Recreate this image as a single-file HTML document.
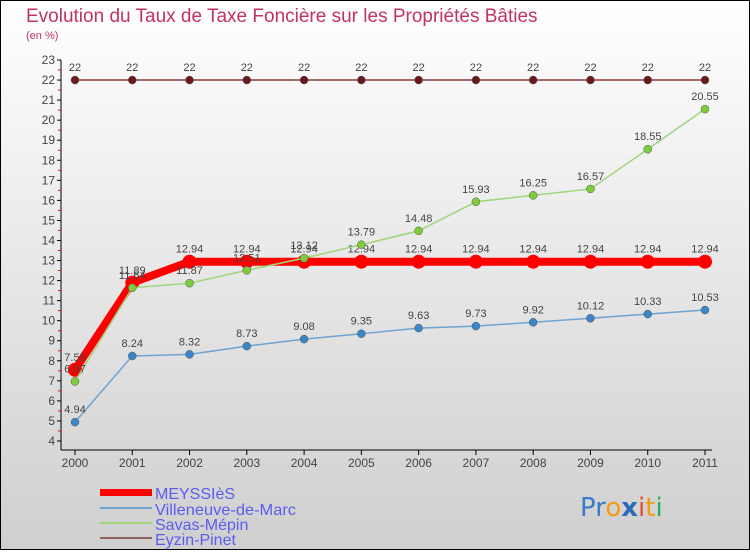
<!DOCTYPE html>
<html><head><meta charset="utf-8"><style>
html,body{margin:0;padding:0}
body{width:750px;height:550px;overflow:hidden;font-family:"Liberation Sans",sans-serif}
</style></head><body>
<svg width="750" height="550" viewBox="0 0 750 550" id="svg">
<defs><linearGradient id="bg" x1="0" y1="0" x2="0" y2="1"><stop offset="0" stop-color="#ffffff"/><stop offset="1" stop-color="#cfcfcf"/></linearGradient></defs>
<rect x="0.5" y="0.5" width="749" height="549" fill="url(#bg)" stroke="#000"/>
<text x="26" y="22" font-size="19" fill="#c2335e">Evolution du Taux de Taxe Foncière sur les Propriétés Bâties</text>
<text x="26" y="39" font-size="11" fill="#c2335e">(en %)</text>
<g id="axes"></g>
<g id="series"></g>
<g>
<rect x="100" y="489" width="52" height="7" fill="#f00"/>
<text x="155" y="499" font-size="16" fill="#5c5cf0">MEYSSIèS</text>
<rect x="100" y="507" width="52" height="2" fill="#6fa3d0"/>
<text x="155" y="515" font-size="16" fill="#5c5cf0" textLength="141" lengthAdjust="spacingAndGlyphs">Villeneuve-de-Marc</text>
<rect x="100" y="522" width="52" height="2" fill="#9ed57a"/>
<text x="155" y="530" font-size="16" fill="#5c5cf0">Savas-Mépin</text>
<rect x="100" y="537" width="52" height="2" fill="#8b6060"/>
<text x="155" y="545" font-size="16" fill="#5c5cf0">Eyzin-Pinet</text>
</g>
<g font-size="26" font-family="'DejaVu Sans',sans-serif">
<text x="580" y="516"><tspan fill="#3a7bc8">Pr</tspan><tspan fill="#f39c12">o</tspan><tspan fill="#2a6ab8" font-weight="bold">x</tspan><tspan fill="#e74c3c">i</tspan><tspan fill="#f39c12">t</tspan><tspan fill="#27ae60">i</tspan></text>
</g>
</svg>
<script>
const years=["2000","2001","2002","2003","2004","2005","2006","2007","2008","2009","2010","2011"];
const meyssies=[7.55,11.89,12.94,12.94,12.94,12.94,12.94,12.94,12.94,12.94,12.94,12.94];
const villeneuve=[4.94,8.24,8.32,8.73,9.08,9.35,9.63,9.73,9.92,10.12,10.33,10.53];
const savas=[6.97,11.64,11.87,12.51,13.12,13.79,14.48,15.93,16.25,16.57,18.55,20.55];
const eyzin=[22,22,22,22,22,22,22,22,22,22,22,22];
const yTicks=[4,5,6,7,8,9,10,11,12,13,14,15,16,17,18,19,20,21,22,23];
const NS="http://www.w3.org/2000/svg";
const xS=i=>75+i*(630/11);
const yS=v=>441-(v-4)*(381/19);
function mk(tag,attrs,parent){const e=document.createElementNS(NS,tag);for(const k in attrs)e.setAttribute(k,attrs[k]);parent.appendChild(e);return e;}
const ax=document.getElementById('axes');
let l=mk('line',{x1:61,y1:60,x2:61,y2:450,stroke:'#000'},ax);


l=mk('line',{x1:61,y1:450,x2:712,y2:450,stroke:'#000'},ax);


yTicks.forEach((v,i)=>{
 const y=yS(v);
 mk('line',{x1:57,y1:y,x2:61,y2:y,stroke:'#000'},ax);
 if(i<yTicks.length-1) mk('line',{x1:58,y1:yS(v+0.5),x2:61,y2:yS(v+0.5),stroke:'#f00'},ax);
 const t=mk('text',{x:55,y:y+4,'font-size':12,'text-anchor':'end',fill:'#444'},ax);
 t.textContent=v;
 
 
});
years.forEach((yr,i)=>{
 const x=xS(i);
 mk('line',{x1:x,y1:450,x2:x,y2:455,stroke:'#000'},ax);
 const t=mk('text',{x:x,y:467,'font-size':12,'text-anchor':'middle',fill:'#444'},ax);
 t.textContent=yr;
 
 
});
const sg=document.getElementById('series');
function draw(name,vals,color,w,r,dot){
 const g=mk('g',{},sg);
 
 
 const p=mk('polyline',{points:vals.map((v,i)=>xS(i)+','+yS(v)).join(' '),fill:'none',stroke:color,'stroke-width':w,'stroke-linejoin':'round'},g);
 
 
 vals.forEach((v,i)=>{
  const c=mk('circle',{cx:xS(i),cy:yS(v),r:r,fill:dot,stroke:w>3?'none':'#555','stroke-width':0.5},g);
  
  
  const t=mk('text',{x:xS(i),y:yS(v)-9,'font-size':11,'text-anchor':'middle',fill:'#444'},g);
  t.textContent=v;
  
  
 });
}
draw('eyzin',eyzin,'#8b3a3a',1.5,4,'#6b1a1a');
draw('villeneuve',villeneuve,'#6fa3d0',1.5,4,'#3a86c8');
draw('meyssies',meyssies,'#f00',8,7,'#f00');
draw('savas',savas,'#9ed57a',1.5,4,'#7ccc3c');
</script>
</body></html>
